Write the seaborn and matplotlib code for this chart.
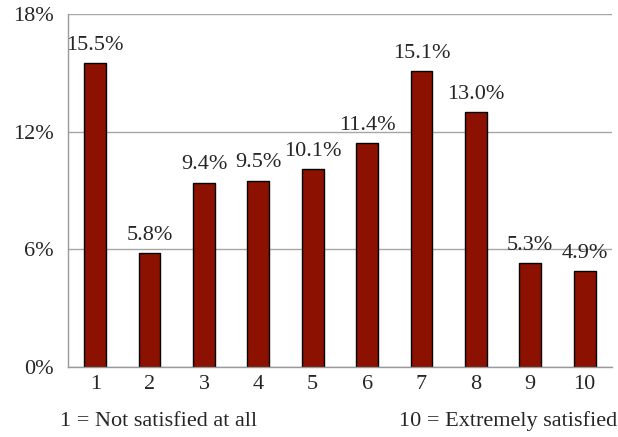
import matplotlib
matplotlib.use("Agg")
import matplotlib.pyplot as plt
import seaborn as sns
import pandas as pd
from matplotlib.ticker import FixedLocator, NullFormatter

categories = ["1", "2", "3", "4", "5", "6", "7", "8", "9", "10"]
values = [15.5, 5.8, 9.4, 9.5, 10.1, 11.4, 15.1, 13.0, 5.3, 4.9]
labels = ["15.5%", "5.8%", "9.4%", "9.5%", "10.1%", "11.4%", "15.1%", "13.0%", "5.3%", "4.9%"]
yticks = [0, 6, 12, 18]
ytick_labels = ["0%", "6%", "12%", "18%"]
note_left = "1 = Not satisfied at all"
note_right = "10 = Extremely satisfied"

sns.set_style("white")
plt.rcParams['font.family'] = ['Liberation Serif', 'DejaVu Serif']
FS = 16

df = pd.DataFrame({"cat": categories, "val": values})

fig = plt.figure(figsize=(6.18, 4.37), dpi=100)
ax = fig.add_axes([0.110, 0.160, 0.880, 0.808])
sns.barplot(data=df, x="cat", y="val", color="#8C1100", width=0.4,
            edgecolor="black", linewidth=1.0, saturation=1, ax=ax)

ax.set_ylim(0, 18)
ax.set_xlim(-0.5, len(categories) - 0.5)
ax.set_yticks(yticks)
ax.set_yticklabels(ytick_labels, fontsize=FS)
ax.set_xticks(range(len(categories)))
ax.set_xticklabels(categories, fontsize=FS)
ax.tick_params(axis='x', which='major', length=0, pad=6)
ax.xaxis.set_minor_locator(FixedLocator([i - 0.5 for i in range(len(categories) + 1)]))
ax.xaxis.set_minor_formatter(NullFormatter())
ax.tick_params(axis='x', which='minor', length=5, width=1, color="#999999", direction='out')
ax.tick_params(axis='y', length=5, width=1, color="#999999", direction='out', pad=5)

ax.yaxis.grid(True, color="#A6A6A6", linewidth=1)
ax.set_axisbelow(True)
for s in ["top", "right"]:
    ax.spines[s].set_visible(False)
for s in ["left", "bottom"]:
    ax.spines[s].set_color("#999999")
    ax.spines[s].set_linewidth(1)
ax.set_xlabel("")
ax.set_ylabel("")

for i, (v, lab) in enumerate(zip(values, labels)):
    ax.annotate(lab, (i, v), xytext=(0, 6), textcoords="offset points",
                ha="center", va="bottom", fontsize=FS)

fig.text(0.097, 0.036, note_left, fontsize=FS, ha="left", va="center")
fig.text(0.999, 0.036, note_right, fontsize=FS, ha="right", va="center")

fig.savefig("out.png", dpi=100)
